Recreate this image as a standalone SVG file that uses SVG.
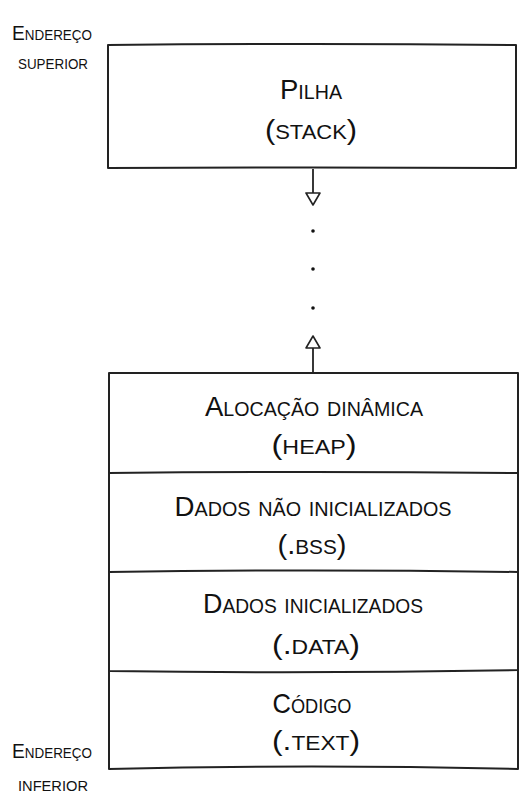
<svg xmlns="http://www.w3.org/2000/svg" width="526" height="802" viewBox="0 0 526 802">
<style>
  .bg { fill: #ffffff; }
  .box { fill: none; stroke: #222; stroke-width: 2; stroke-linejoin: round; stroke-linecap: round; }
  .lbl { font-family: "Liberation Sans", "DejaVu Sans", sans-serif; font-variant: small-caps; fill: #111; text-anchor: middle; font-size: 28px; }
  .side { font-family: "Liberation Sans", "DejaVu Sans", sans-serif; font-variant: small-caps; fill: #111; text-anchor: middle; font-size: 20px; }
  .conn { stroke: #222; stroke-width: 1.8; fill: none; }
  .dot { fill: #111; }
</style>
<defs>
  <marker id="hollow" markerUnits="userSpaceOnUse" viewBox="0 0 14 16" refX="13" refY="8" markerWidth="14" markerHeight="16" orient="auto">
    <path d="M1,1 L13,8 L1,15 Z" fill="#fff" stroke="#222" stroke-width="1.6" stroke-linejoin="round"/>
  </marker>
</defs>
<rect class="bg" x="0" y="0" width="526" height="802"/>

<g id="label-top">
  <text class="side" x="52" y="40" textLength="80" lengthAdjust="spacingAndGlyphs">Endereço</text>
  <text class="side" x="53" y="69" textLength="70" lengthAdjust="spacingAndGlyphs">superior</text>
</g>

<g id="stack">
  <path class="box" d="M108,45 Q310,43 516,45 L516,168 Q310,167 108,168 Z"/>
  <text class="lbl" x="311" y="99" textLength="62" lengthAdjust="spacingAndGlyphs">Pilha</text>
  <text class="lbl" x="311" y="139" textLength="92" lengthAdjust="spacingAndGlyphs">(stack)</text>
</g>

<g id="connectors">
  <line class="conn" x1="313" y1="169" x2="313" y2="205" marker-end="url(#hollow)"/>
  <line class="conn" x1="313" y1="372" x2="313" y2="336" marker-end="url(#hollow)"/>
  <circle class="dot" cx="313" cy="231" r="1.8"/>
  <circle class="dot" cx="313" cy="269" r="1.8"/>
  <circle class="dot" cx="313" cy="308" r="1.8"/>
</g>

<g id="heap">
  <path class="box" d="M109,373 L518,373 L518,473 Q310,471 109,473 Z"/>
  <text class="lbl" x="314" y="416" textLength="218" lengthAdjust="spacingAndGlyphs">Alocação dinâmica</text>
  <text class="lbl" x="314" y="454" textLength="85" lengthAdjust="spacingAndGlyphs">(heap)</text>
</g>

<g id="bss">
  <path class="box" d="M109,473 L109,572 Q310,569 518,572 L518,473"/>
  <text class="lbl" x="313" y="516" textLength="277" lengthAdjust="spacingAndGlyphs">Dados não inicializados</text>
  <text class="lbl" x="312" y="554" textLength="69" lengthAdjust="spacingAndGlyphs">(.bss)</text>
</g>

<g id="data">
  <path class="box" d="M109,572 L109,671 Q310,674 518,670 L518,572"/>
  <text class="lbl" x="313" y="613" textLength="220" lengthAdjust="spacingAndGlyphs">Dados inicializados</text>
  <text class="lbl" x="316" y="654" textLength="88" lengthAdjust="spacingAndGlyphs">(.data)</text>
</g>

<g id="text-seg">
  <path class="box" d="M109,671 L109,769 Q310,764 518,769 L518,670"/>
  <text class="lbl" x="312" y="713" textLength="79" lengthAdjust="spacingAndGlyphs">Código</text>
  <text class="lbl" x="316" y="750" textLength="88" lengthAdjust="spacingAndGlyphs">(.text)</text>
</g>

<g id="label-bottom">
  <text class="side" x="52" y="758" textLength="80" lengthAdjust="spacingAndGlyphs">Endereço</text>
  <text class="side" x="53" y="791" textLength="70" lengthAdjust="spacingAndGlyphs">inferior</text>
</g>
</svg>
